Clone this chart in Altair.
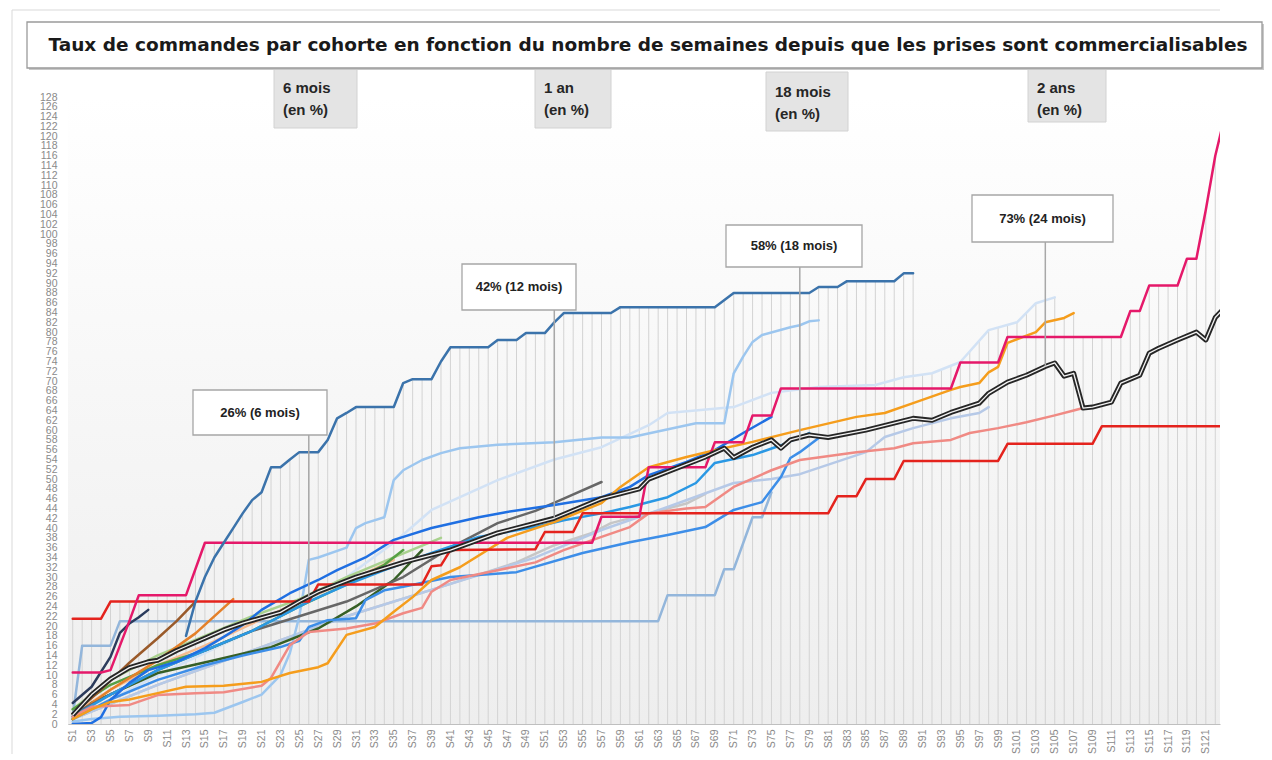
import altair as alt
import numpy as np
import pandas as pd

# ---------------- data (weeks "S", order rate in %) ----------------
top_w = [13, 14, 15, 16, 17, 18, 19, 20, 21, 22, 23, 24, 25, 27, 28, 29, 30, 31, 35, 36, 37, 39, 40, 41, 45, 46, 48, 49, 51, 52, 53, 58, 59, 69, 71, 79, 80, 82, 83, 88, 89, 90]
top_v = [18, 25, 30, 34, 37, 40, 43, 45.7, 47.3, 52.4, 52.4, 54, 55.5, 55.5, 58, 62.4, 63.5, 64.7, 64.7, 69.6, 70.4, 70.4, 74, 76.9, 76.9, 78.4, 78.4, 79.8, 79.8, 82, 83.9, 83.9, 85.1, 85.1, 88, 88, 89.2, 89.2, 90.4, 90.4, 92, 92]

mag_w = [1, 4, 5, 6, 7, 8, 13, 15, 56, 57, 61, 62, 68, 69, 72, 73, 75, 76, 94, 95, 99, 100, 112, 113, 114, 115, 118, 119, 120, 121, 122, 123]
mag_v = [10.5, 10.5, 11, 16, 21, 26.3, 26.3, 37, 37, 42.3, 42.3, 52.4, 52.4, 57.5, 57.5, 63, 63, 68.5, 68.5, 73.8, 73.8, 79, 79, 84.3, 84.3, 89.5, 89.5, 95, 95, 105, 116, 124]

red_w = [1, 4, 5, 26, 27, 38, 39, 40, 41, 50, 51, 54, 55, 81, 82, 84, 85, 88, 89, 99, 100, 109, 110, 123]
red_v = [21.5, 21.5, 25, 25, 28.5, 28.5, 32.2, 32.4, 35.5, 35.7, 39.2, 39.2, 43, 43, 46.5, 46.5, 50, 50, 53.7, 53.7, 57.2, 57.2, 60.8, 60.8]

vlb_w = [1, 10, 20, 26, 30, 35, 39, 46, 52, 57, 62, 64, 71, 75, 80, 86, 89, 92, 95, 98, 101, 103, 105]
vlb_v = [1, 10, 19, 25, 30, 37, 43.7, 49.8, 54, 56.5, 61, 63.5, 64.7, 67.6, 68.8, 69.2, 70.8, 71.6, 73.9, 80.4, 82, 85.9, 87.1]

lg_w = [1, 10, 20, 30, 40, 48, 52, 56, 58, 62, 66, 68]
lg_v = [1, 8, 15, 22, 28, 33, 36.5, 39, 41, 43, 45, 47]

lbg_w = [1, 10, 20, 30, 40, 50, 57, 64, 71, 75, 78, 85, 87, 90, 94, 97, 98]
lbg_v = [1, 8, 15, 22, 28, 34, 39.6, 44.3, 49.2, 50, 51, 55.5, 58.6, 60.4, 62.4, 63.5, 64.7]

ls_w = [1, 2, 5, 6, 63, 64, 69, 70, 71, 73, 74, 75]
ls_v = [1.5, 16, 16, 21, 21, 26.3, 26.3, 31.6, 31.6, 42.2, 42.2, 47.3]

lb_w = [1, 3, 6, 10, 14, 16, 19, 21, 22, 23, 24, 25, 26, 27, 30, 31, 32, 34, 35, 36, 38, 40, 42, 46, 52, 57, 60, 67, 70, 71, 72, 73, 74, 77, 78, 79, 80]
lb_v = [0.5, 1, 1.5, 1.7, 2, 2.3, 4.5, 6, 8, 10, 14.5, 22, 33.5, 34, 36, 40, 41, 42.2, 49.8, 51.8, 53.9, 55.3, 56.3, 57, 57.5, 58.5, 58.5, 61.4, 61.4, 71.6, 75, 78, 79.4, 81, 81.4, 82.2, 82.4]

pe_w = [1, 5, 10, 15, 20, 25, 30, 35]
pe_v = [2, 7, 12, 16, 20.5, 25, 29, 33.5]

lgr_w = [1, 5, 10, 15, 20, 25, 30, 35, 40]
lgr_v = [3, 9, 14, 18, 22, 25.5, 30, 34, 38]

gr_w = [1, 5, 10, 15, 20, 25, 30, 34, 36]
gr_v = [3, 8, 12, 15, 19, 24, 28.5, 32.5, 35.5]

dgr_w = [1, 3, 10, 16, 22, 27, 31, 35, 38]
dgr_v = [1, 4.3, 10.4, 13, 15.7, 19.5, 24, 29.4, 35.5]

br_w = [1, 4, 7, 10, 12, 14]
br_v = [2, 7, 12.5, 17.5, 21, 25]

dor_w = [1, 5, 10, 14, 18]
dor_v = [1.5, 7, 13, 18.5, 25.5]

nv_w = [1, 3, 5, 6, 7, 8, 9]
nv_v = [4.3, 7.6, 13.7, 18.6, 20.5, 21.8, 23.3]

dg_w = [1, 10, 20, 30, 36, 41, 46, 50, 53, 57]
dg_v = [2, 11, 19, 25, 30, 36, 41, 43.5, 46, 49.4]

az_w = [1, 5, 10, 15, 20, 26, 30, 34, 39, 44, 50, 53, 57, 60, 64, 67, 69, 73, 76, 79]
az_v = [1.5, 6, 11, 15, 19, 25, 28.4, 31.4, 34.9, 38.2, 40.2, 41.6, 43, 44.3, 46.3, 49.2, 53.3, 54.9, 56.9, 59.4]

mb_w = [1, 5, 10, 15, 19, 23, 25, 26, 28, 31, 32, 34, 36, 41, 48, 55, 60, 64, 68, 71, 74, 76, 77, 78, 80]
mb_v = [1, 5, 9, 12, 14, 15.7, 17, 19.8, 21.2, 21.6, 25.3, 27.3, 28, 30, 31, 34.9, 37.1, 38.6, 40.2, 43.7, 45.3, 50.4, 54.3, 55.5, 58.4]

rb_w = [1, 3, 4, 5, 7, 9, 12, 15, 17, 19, 21, 24, 27, 29, 32, 35, 39, 44, 47, 52, 57, 60, 62, 66, 69, 72, 75]
rb_v = [0, 0.2, 1.4, 4.9, 8.4, 11, 12.7, 15.5, 17.8, 20.2, 23.3, 26.7, 29.4, 31.4, 34, 37.6, 40, 42.2, 43.3, 44.7, 46.3, 48.4, 50.8, 53.5, 55.9, 59.4, 62.7]

sa_w = [1, 3, 7, 10, 14, 17, 21, 22, 24, 26, 30, 33, 36, 38, 39, 41, 46, 50, 53, 57, 60, 62, 66, 68, 71, 75, 78, 84, 88, 90, 94, 96, 99, 102, 105, 107, 108]
sa_v = [1.5, 3.5, 3.9, 5.9, 6.3, 6.5, 7.8, 9.4, 16.1, 18.8, 19.5, 20.5, 22.6, 23.7, 27, 29.4, 31.4, 33, 35.5, 38.2, 40.2, 43, 44, 44.3, 48.4, 51.8, 53.9, 55.5, 56.3, 57.3, 58, 59.4, 60.4, 61.6, 63, 64, 64.5]

or_w = [1, 3, 5, 7, 10, 13, 17, 21, 24, 27, 28, 30, 33, 35, 37, 39, 42, 47, 52, 57, 59, 62, 66, 69, 73, 78, 84, 87, 90, 94, 95, 97, 98, 99, 100, 103, 104, 106, 107]
or_v = [1, 3, 4.5, 5, 6.3, 7.6, 7.8, 8.6, 10.4, 11.6, 12.4, 18.2, 19.8, 22.9, 25.9, 29.4, 32, 38, 41.2, 45.1, 48.4, 52.4, 54.5, 55.9, 57.6, 60, 62.7, 63.5, 65.5, 68.2, 68.8, 69.6, 71.8, 72.9, 77.8, 80, 82, 82.9, 83.9]

avg_w = [1, 3, 5, 7, 9, 10, 12, 15, 17, 19, 23, 25, 27, 31, 36, 41, 46, 52, 57, 61, 62, 66, 68, 70, 71, 73, 75, 76, 77, 79, 81, 85, 90, 92, 94, 97, 98, 100, 102, 104, 105, 106, 107, 108, 109, 111, 112, 114, 115, 116, 118, 120, 121, 122, 123]
avg_v = [1.8, 6, 9.2, 11.5, 12.7, 13, 15, 17.5, 19.2, 20.6, 22.8, 25, 27, 30, 33, 35.5, 39, 42, 46, 48, 50, 53, 54.5, 56.3, 54.4, 56.5, 58, 56.3, 58, 59, 58.5, 60, 62.4, 62, 63.6, 65.5, 67.5, 69.8, 71.2, 73, 73.7, 71, 71.6, 64.5, 64.7, 65.7, 69.6, 71.2, 75.7, 76.7, 78.4, 80, 78.4, 83, 85]

# milestone call-outs
call_w = [26, 52, 78, 104]
call_v = [26, 42, 58, 73]
call_txt = ["26% (6 mois)", "42% (12 mois)", "58% (18 mois)", "73% (24 mois)"]
head_txt = [["6 mois", "(en %)"], ["1 an", "(en %)"], ["18 mois", "(en %)"], ["2 ans", "(en %)"]]
title_txt = "Taux de commandes par cohorte en fonction du nombre de semaines depuis que les prises sont commercialisables"

# ---------------- styling ----------------
W, H = 1152, 627
series = [
    ("01", vlb_w, vlb_v, "#d2e2f5"),
    ("02", lg_w, lg_v, "#c6c6c6"),
    ("03", lbg_w, lbg_v, "#b6c9e7"),
    ("04", ls_w, ls_v, "#93b6db"),
    ("05", lb_w, lb_v, "#9cc6ef"),
    ("06", pe_w, pe_v, "#f6b98e"),
    ("07", lgr_w, lgr_v, "#a9d18e"),
    ("08", gr_w, gr_v, "#56a044"),
    ("09", dgr_w, dgr_v, "#365f25"),
    ("10", br_w, br_v, "#9a5a2a"),
    ("11", dor_w, dor_v, "#e4802a"),
    ("12", nv_w, nv_v, "#2b3b5c"),
    ("13", dg_w, dg_v, "#676767"),
    ("14", az_w, az_v, "#2a98e4"),
    ("15", mb_w, mb_v, "#3d8ee8"),
    ("16", rb_w, rb_v, "#1f6fe2"),
    ("17", sa_w, sa_v, "#f08a84"),
    ("18", or_w, or_v, "#f59d1c"),
    ("19", red_w, red_v, "#e4231d"),
    ("20", mag_w, mag_v, "#e5196a"),
    ("21", top_w, top_v, "#3b73ab"),
]

rows = []
for name, ws, vs, _ in series:
    for w, v in zip(ws, vs):
        rows.append({"serie": name, "semaine": w, "taux": v})
df = pd.DataFrame(rows)
avg_df = pd.DataFrame({"semaine": avg_w, "taux": avg_v})

# drop lines (vertical line at each week up to the highest cohort)
allser = [(ws, vs) for _, ws, vs, _ in series] + [(avg_w, avg_v)]
drop_rows = []
for wk in range(1, 123):
    tops = [float(np.interp(wk, ws, vs)) for ws, vs in allser if ws[0] <= wk <= ws[-1]]
    drop_rows.append({"semaine": wk, "haut": max(tops), "bas": 0})
drop_df = pd.DataFrame(drop_rows)

xs = alt.Scale(domain=[0.5, 122.5], nice=False, zero=False)
ys = alt.Scale(domain=[0, 128], nice=False, zero=True)
narrow = "Liberation Sans Narrow, Liberation Sans, Arial, sans-serif"

xaxis = alt.Axis(values=list(range(1, 122, 2)), labelExpr="'S' + datum.value", labelAngle=270,
                 labelFontSize=10.5, labelColor="#8a8a8a", labelFont=narrow, ticks=False,
                 domainColor="#bfbfbf", grid=False, title=None, labelPadding=5,
                 labelOverlap=False, labelFlush=False)
yaxis = alt.Axis(values=list(range(0, 129, 2)), labelFontSize=10.5, labelColor="#8a8a8a",
                 labelFont=narrow, ticks=False, domainColor="#bfbfbf", grid=False, title=None,
                 labelPadding=11, labelOverlap=False, labelFlush=False)


def X(field):
    return alt.X(field, scale=xs, axis=xaxis)


def Y(field):
    return alt.Y(field, scale=ys, axis=yaxis)


grad = alt.LinearGradient(gradient="linear",
                          stops=[alt.GradientStop(color="#ffffff", offset=0),
                                 alt.GradientStop(color="#eeeeee", offset=1)],
                          x1=0, x2=0, y1=0, y2=1)
bg = alt.Chart(pd.DataFrame({"a": [0]})).mark_rect(color=grad).encode(
    x=alt.value(0), x2=alt.value(W), y=alt.value(0), y2=alt.value(H))

drops = alt.Chart(drop_df).mark_rule(color="#d3d3d3", strokeWidth=1).encode(
    x=X("semaine:Q"), y=Y("haut:Q"), y2="bas:Q")

lines = alt.Chart(df).mark_line(clip=True, strokeWidth=2.5, strokeJoin="round", strokeCap="round").encode(
    x=X("semaine:Q"), y=Y("taux:Q"),
    color=alt.Color("serie:N", scale=alt.Scale(domain=[s[0] for s in series], range=[s[3] for s in series]), legend=None),
    order="semaine:Q")

avg_outer = alt.Chart(avg_df).mark_line(clip=True, color="#262626", strokeWidth=5, strokeJoin="round").encode(
    x=X("semaine:Q"), y=Y("taux:Q"))
avg_inner = alt.Chart(avg_df).mark_line(clip=True, color="#f4f4f4", strokeWidth=1.3, strokeJoin="round").encode(
    x=X("semaine:Q"), y=Y("taux:Q"))

# call-out boxes (pixel layout relative to plot origin)
box_x1 = [125, 394, 658, 904]
box_x2 = [259, 508, 794, 1045]
box_y1 = [293, 167, 128, 98]
box_y2 = [338, 213, 170, 145]
lead_df = pd.DataFrame({"semaine": call_w, "taux": call_v,
                        "bord": [128 * (1 - b / H) for b in box_y2]})
leaders = alt.Chart(lead_df).mark_rule(color="#a8a8a8", strokeWidth=1.5).encode(
    x=X("semaine:Q"), y=Y("taux:Q"), y2="bord:Q")

cbox = pd.DataFrame({"x1": box_x1, "x2": box_x2, "y1": box_y1, "y2": box_y2,
                     "tx": [(a + b) / 2 for a, b in zip(box_x1, box_x2)],
                     "ty": [(a + b) / 2 for a, b in zip(box_y1, box_y2)], "t": call_txt})
cb_rect = alt.Chart(cbox).mark_rect(fill="white", stroke="#a6a6a6", strokeWidth=1.3).encode(
    x=alt.X("x1:Q", scale=None), x2="x2:Q", y=alt.Y("y1:Q", scale=None), y2="y2:Q")
cb_text = alt.Chart(cbox).mark_text(font="Liberation Sans", fontWeight="bold", fontSize=13,
                                    color="#222222", align="center", baseline="middle").encode(
    x=alt.X("tx:Q", scale=None), y=alt.Y("ty:Q", scale=None), text="t:N")

# header boxes
hx1 = [206, 467, 698, 960]
hx2 = [289, 543, 780, 1038]
hy1 = [-29, -29, -25, -29]
hy2 = [31, 31, 34, 25]
hbox = pd.DataFrame({"x1": hx1, "x2": hx2, "y1": hy1, "y2": hy2})
hb_rect = alt.Chart(hbox).mark_rect(fill="#e4e4e4", stroke="#d2d2d2", strokeWidth=1).encode(
    x=alt.X("x1:Q", scale=None), x2="x2:Q", y=alt.Y("y1:Q", scale=None), y2="y2:Q")
htxt_rows = []
for i, (l1, l2) in enumerate(head_txt):
    htxt_rows.append({"x": hx1[i] + 9, "y": hy1[i] + 20, "t": l1})
    htxt_rows.append({"x": hx1[i] + 9, "y": hy1[i] + 42, "t": l2})
hb_text = alt.Chart(pd.DataFrame(htxt_rows)).mark_text(
    font="Liberation Sans Narrow, Liberation Sans", fontWeight="bold", fontSize=15,
    color="#262626", align="left", baseline="middle").encode(
    x=alt.X("x:Q", scale=None), y=alt.Y("y:Q", scale=None), text="t:N")

# title box and frame
tbox = pd.DataFrame({"x1": [-41], "x2": [1194], "y1": [-75], "y2": [-29]})
t_shadow = alt.Chart(pd.DataFrame({"x1": [-39], "x2": [1196], "y1": [-73], "y2": [-27]})).mark_rect(fill="#c8c8c8").encode(
    x=alt.X("x1:Q", scale=None), x2="x2:Q", y=alt.Y("y1:Q", scale=None), y2="y2:Q")
t_rect = alt.Chart(tbox).mark_rect(fill="white", stroke="#9a9a9a", strokeWidth=1.3).encode(
    x=alt.X("x1:Q", scale=None), x2="x2:Q", y=alt.Y("y1:Q", scale=None), y2="y2:Q")
t_text = alt.Chart(pd.DataFrame({"x": [580], "y": [-52], "t": [title_txt]})).mark_text(
    font="DejaVu Sans", fontWeight="bold", fontSize=18.5, color="#1a1a1a",
    align="center", baseline="middle").encode(
    x=alt.X("x:Q", scale=None), y=alt.Y("y:Q", scale=None), text="t:N")
frame = alt.Chart(pd.DataFrame({"x": [-56, -56], "x2": [1152, -56], "y": [-87, -87], "y2": [-87, 680]})).mark_rule(
    color="#d9d9d9", strokeWidth=1).encode(
    x=alt.X("x:Q", scale=None), x2="x2:Q", y=alt.Y("y:Q", scale=None), y2="y2:Q")

chart = alt.layer(
    bg, drops, lines, avg_outer, avg_inner, leaders,
    cb_rect, cb_text, hb_rect, hb_text, frame, t_shadow, t_rect, t_text
).properties(
    width=W, height=H,
    autosize=alt.AutoSizeParams(type="none"),
    padding={"left": 60, "top": 89, "right": 44, "bottom": 30},
    background="white",
).configure_view(stroke=None).configure_axis(labelOverlap=False, labelFlush=False)

chart.save("out.html", embed_options={"renderer": "svg", "actions": False})
